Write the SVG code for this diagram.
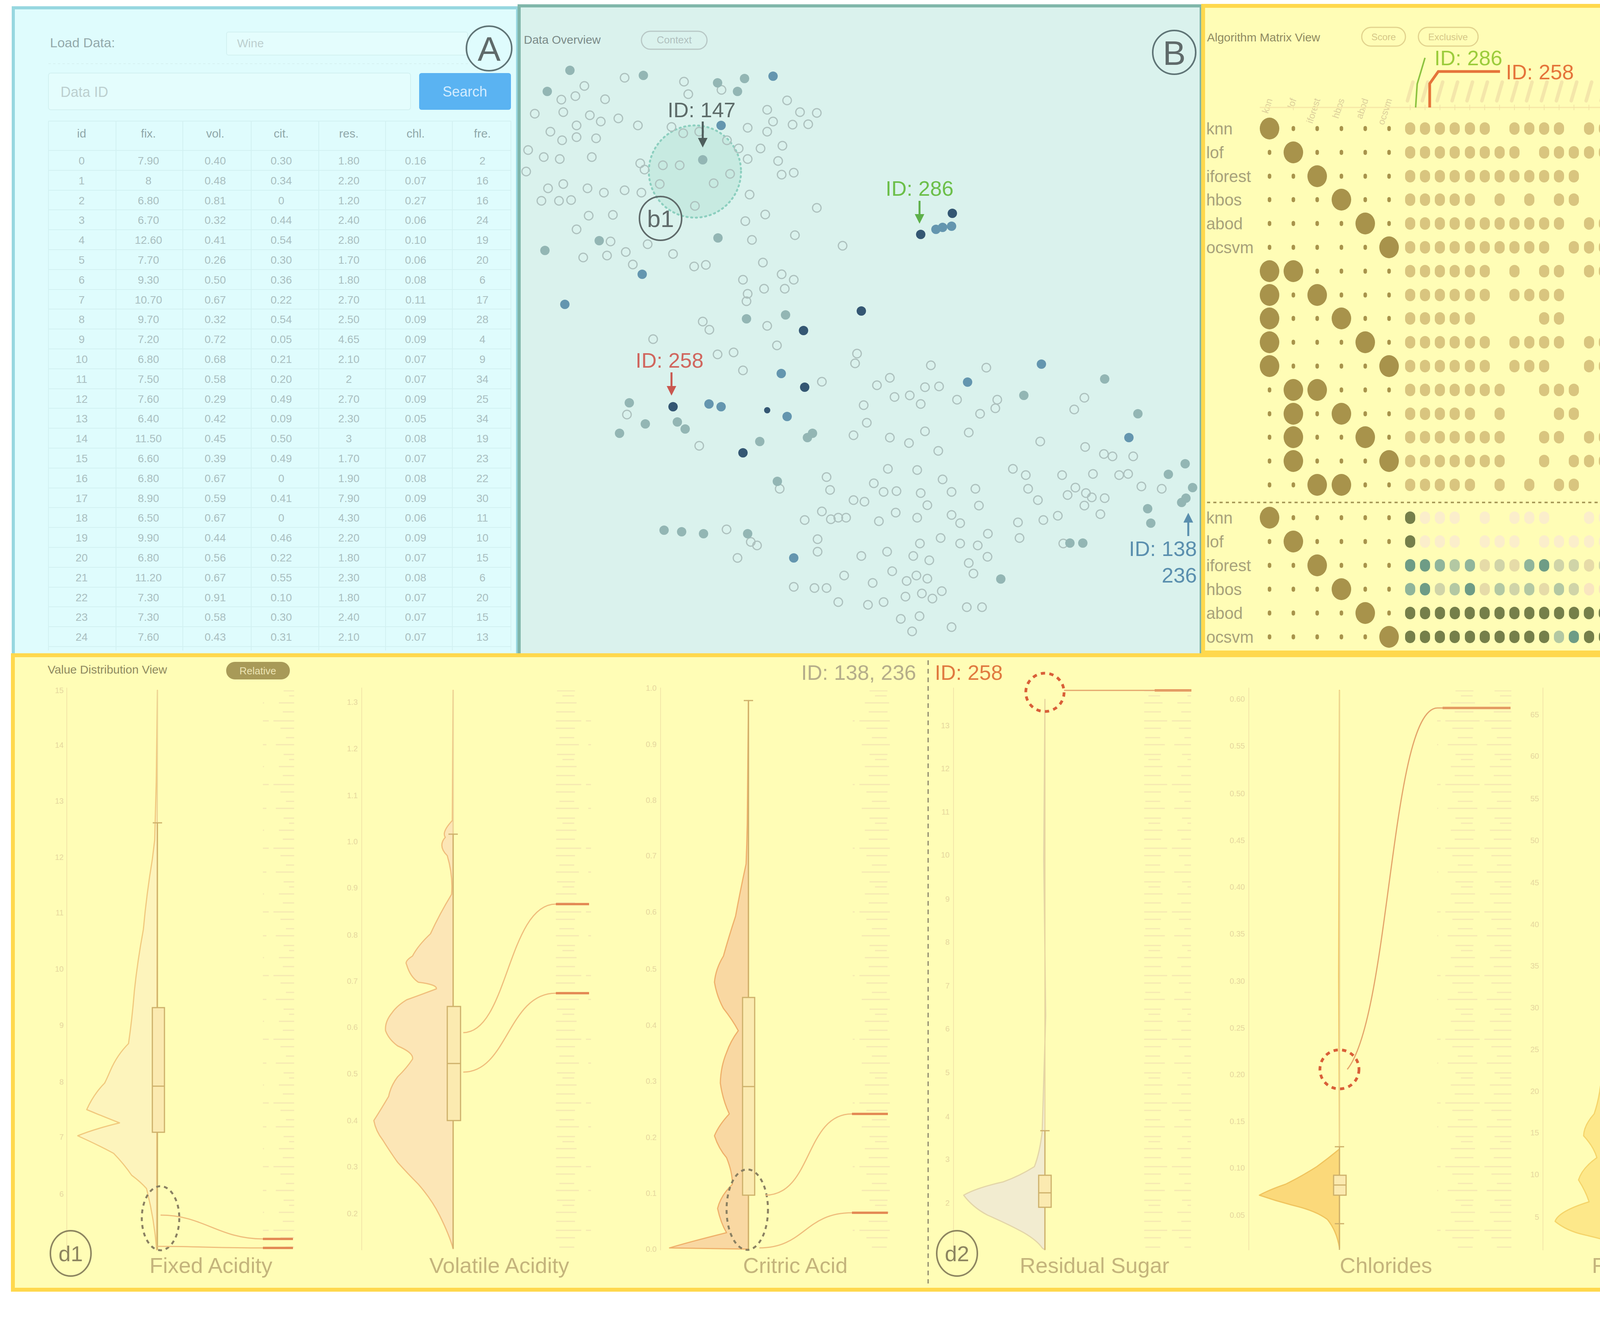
<svg xmlns="http://www.w3.org/2000/svg" width="6259" height="3422" viewBox="0 0 6259 3422">
<style>
text{font-family:"Liberation Sans",Arial,sans-serif}
.annA{fill:none;stroke:#5f7476;stroke-width:4}
.annC{fill:none;stroke:#8d8560;stroke-width:4}
.annt{font-size:88px;fill:#5f6a6a;text-anchor:middle}
.anntC{font-size:88px;fill:#8d8560;text-anchor:middle}
.anns{font-size:56px;fill:#8d8560;text-anchor:middle}
.tbh{font-size:30px;fill:#8fa7a9;text-anchor:middle}
.tb{font-size:28px;fill:#a9bec0;text-anchor:middle}
.h{fill:none;stroke:#adc1be;stroke-width:3}
.f1{fill:#93b6b4}.f2{fill:#6496af}.f3{fill:#345773}
.alg{font-size:42px;fill:#a8a27a}
.dot{fill:none;stroke-width:26;stroke-linecap:round}
.big{fill:#a8934b}
.sm{fill:none;stroke:#a8934b;stroke-width:9;stroke-linecap:round}
.tick{font-size:20px;fill:#e6d79e;text-anchor:end}
.axl{stroke:#f3e5a8;stroke-width:2;fill:none}
.wh{stroke:#cdb06a;stroke-width:3;fill:none}
.thin{stroke:#ead59a;stroke-width:2;fill:none}
.box{fill:#fbeab0;stroke:#cdb06a;stroke-width:3}
.con{fill:none;stroke:#efbd7c;stroke-width:3}
.hl{fill:none;stroke:#e38a55;stroke-width:6}
.lab{font-size:56px;fill:#c4b47c;text-anchor:middle}
.rd{fill:none;stroke:#d95f38;stroke-width:7;stroke-dasharray:11 11}
.gd{fill:none;stroke:#8cc23f;stroke-width:7;stroke-dasharray:11 11}
.kd{fill:none;stroke:#8a8062;stroke-width:5;stroke-dasharray:10 10}
.idt{font-size:54px}
.vio{stroke-width:3;stroke-linejoin:round}
</style>
<defs>
<marker id="ak" viewBox="0 0 10 10" refX="5" refY="5" markerWidth="5" markerHeight="5" orient="auto"><path d="M0 0L10 5L0 10z" fill="#4d5d5b"/></marker>
<marker id="ag" viewBox="0 0 10 10" refX="5" refY="5" markerWidth="5" markerHeight="5" orient="auto"><path d="M0 0L10 5L0 10z" fill="#5db04a"/></marker>
<marker id="ar" viewBox="0 0 10 10" refX="5" refY="5" markerWidth="5" markerHeight="5" orient="auto"><path d="M0 0L10 5L0 10z" fill="#c9574f"/></marker>
<marker id="ab" viewBox="0 0 10 10" refX="5" refY="5" markerWidth="5" markerHeight="5" orient="auto"><path d="M0 0L10 5L0 10z" fill="#5a8fae"/></marker>
<pattern id="rug" width="100" height="163" patternUnits="userSpaceOnUse"><path d="M14 6h62M24 29h48M0 52h88M18 71h54M32 95h38M6 113h76M26 138h46M40 151h30" stroke="#f5e8b2" stroke-width="3"/></pattern>
</defs>
<rect width="6259" height="3422" fill="#ffffff"/>

<g id="panelA">
<rect x="34" y="20" width="1291" height="1660" fill="#dffcfd" stroke="#97d7e0" stroke-width="8"/>
<text x="128" y="121" font-size="34" fill="#93a9ab">Load Data:</text>
<rect x="580" y="82" width="617" height="59" rx="5" fill="#e4fdfd" stroke="#d2f1f1" stroke-width="2"/>
<text x="607" y="121" font-size="30" fill="#bccfcf">Wine</text>
<path d="M124 163H1200" stroke="#d6f1f1" stroke-width="2" stroke-dasharray="6 6"/>
<rect x="124" y="187" width="927" height="94" rx="6" fill="#e4fdfd" stroke="#d2f1f1" stroke-width="2"/>
<text x="155" y="248" font-size="36" fill="#bccfcf">Data ID</text>
<rect x="1073" y="187" width="235" height="94" rx="6" fill="#5ab3f2"/>
<text x="1190" y="247" font-size="36" fill="#d3ecff" text-anchor="middle">Search</text>
<ellipse cx="1252" cy="124" rx="58" ry="57" class="annA"/>
<text x="1252" y="156" class="annt">A</text>
<path d="M124 310H1308M124 385H1308M124 436H1308M124 487H1308M124 537H1308M124 588H1308M124 639H1308M124 690H1308M124 741H1308M124 791H1308M124 842H1308M124 893H1308M124 944H1308M124 995H1308M124 1045H1308M124 1096H1308M124 1147H1308M124 1198H1308M124 1249H1308M124 1299H1308M124 1350H1308M124 1401H1308M124 1452H1308M124 1503H1308M124 1553H1308M124 1604H1308M124 1655H1308M124 310V1665M297 310V1665M468 310V1665M643 310V1665M816 310V1665M987 310V1665M1158 310V1665M1308 310V1665" stroke="#d2f1f2" stroke-width="2" fill="none"/>
<text class="tbh" y="352"><tspan x="209">id</tspan><tspan x="380">fix.</tspan><tspan x="551">vol.</tspan><tspan x="720">cit.</tspan><tspan x="893">res.</tspan><tspan x="1064">chl.</tspan><tspan x="1235">fre.</tspan></text>
<text class="tb" y="421"><tspan x="209">0</tspan><tspan x="380">7.90</tspan><tspan x="551">0.40</tspan><tspan x="720">0.30</tspan><tspan x="893">1.80</tspan><tspan x="1064">0.16</tspan><tspan x="1235">2</tspan></text>
<text class="tb" y="472"><tspan x="209">1</tspan><tspan x="380">8</tspan><tspan x="551">0.48</tspan><tspan x="720">0.34</tspan><tspan x="893">2.20</tspan><tspan x="1064">0.07</tspan><tspan x="1235">16</tspan></text>
<text class="tb" y="523"><tspan x="209">2</tspan><tspan x="380">6.80</tspan><tspan x="551">0.81</tspan><tspan x="720">0</tspan><tspan x="893">1.20</tspan><tspan x="1064">0.27</tspan><tspan x="1235">16</tspan></text>
<text class="tb" y="573"><tspan x="209">3</tspan><tspan x="380">6.70</tspan><tspan x="551">0.32</tspan><tspan x="720">0.44</tspan><tspan x="893">2.40</tspan><tspan x="1064">0.06</tspan><tspan x="1235">24</tspan></text>
<text class="tb" y="624"><tspan x="209">4</tspan><tspan x="380">12.60</tspan><tspan x="551">0.41</tspan><tspan x="720">0.54</tspan><tspan x="893">2.80</tspan><tspan x="1064">0.10</tspan><tspan x="1235">19</tspan></text>
<text class="tb" y="675"><tspan x="209">5</tspan><tspan x="380">7.70</tspan><tspan x="551">0.26</tspan><tspan x="720">0.30</tspan><tspan x="893">1.70</tspan><tspan x="1064">0.06</tspan><tspan x="1235">20</tspan></text>
<text class="tb" y="726"><tspan x="209">6</tspan><tspan x="380">9.30</tspan><tspan x="551">0.50</tspan><tspan x="720">0.36</tspan><tspan x="893">1.80</tspan><tspan x="1064">0.08</tspan><tspan x="1235">6</tspan></text>
<text class="tb" y="777"><tspan x="209">7</tspan><tspan x="380">10.70</tspan><tspan x="551">0.67</tspan><tspan x="720">0.22</tspan><tspan x="893">2.70</tspan><tspan x="1064">0.11</tspan><tspan x="1235">17</tspan></text>
<text class="tb" y="827"><tspan x="209">8</tspan><tspan x="380">9.70</tspan><tspan x="551">0.32</tspan><tspan x="720">0.54</tspan><tspan x="893">2.50</tspan><tspan x="1064">0.09</tspan><tspan x="1235">28</tspan></text>
<text class="tb" y="878"><tspan x="209">9</tspan><tspan x="380">7.20</tspan><tspan x="551">0.72</tspan><tspan x="720">0.05</tspan><tspan x="893">4.65</tspan><tspan x="1064">0.09</tspan><tspan x="1235">4</tspan></text>
<text class="tb" y="929"><tspan x="209">10</tspan><tspan x="380">6.80</tspan><tspan x="551">0.68</tspan><tspan x="720">0.21</tspan><tspan x="893">2.10</tspan><tspan x="1064">0.07</tspan><tspan x="1235">9</tspan></text>
<text class="tb" y="980"><tspan x="209">11</tspan><tspan x="380">7.50</tspan><tspan x="551">0.58</tspan><tspan x="720">0.20</tspan><tspan x="893">2</tspan><tspan x="1064">0.07</tspan><tspan x="1235">34</tspan></text>
<text class="tb" y="1031"><tspan x="209">12</tspan><tspan x="380">7.60</tspan><tspan x="551">0.29</tspan><tspan x="720">0.49</tspan><tspan x="893">2.70</tspan><tspan x="1064">0.09</tspan><tspan x="1235">25</tspan></text>
<text class="tb" y="1081"><tspan x="209">13</tspan><tspan x="380">6.40</tspan><tspan x="551">0.42</tspan><tspan x="720">0.09</tspan><tspan x="893">2.30</tspan><tspan x="1064">0.05</tspan><tspan x="1235">34</tspan></text>
<text class="tb" y="1132"><tspan x="209">14</tspan><tspan x="380">11.50</tspan><tspan x="551">0.45</tspan><tspan x="720">0.50</tspan><tspan x="893">3</tspan><tspan x="1064">0.08</tspan><tspan x="1235">19</tspan></text>
<text class="tb" y="1183"><tspan x="209">15</tspan><tspan x="380">6.60</tspan><tspan x="551">0.39</tspan><tspan x="720">0.49</tspan><tspan x="893">1.70</tspan><tspan x="1064">0.07</tspan><tspan x="1235">23</tspan></text>
<text class="tb" y="1234"><tspan x="209">16</tspan><tspan x="380">6.80</tspan><tspan x="551">0.67</tspan><tspan x="720">0</tspan><tspan x="893">1.90</tspan><tspan x="1064">0.08</tspan><tspan x="1235">22</tspan></text>
<text class="tb" y="1285"><tspan x="209">17</tspan><tspan x="380">8.90</tspan><tspan x="551">0.59</tspan><tspan x="720">0.41</tspan><tspan x="893">7.90</tspan><tspan x="1064">0.09</tspan><tspan x="1235">30</tspan></text>
<text class="tb" y="1335"><tspan x="209">18</tspan><tspan x="380">6.50</tspan><tspan x="551">0.67</tspan><tspan x="720">0</tspan><tspan x="893">4.30</tspan><tspan x="1064">0.06</tspan><tspan x="1235">11</tspan></text>
<text class="tb" y="1386"><tspan x="209">19</tspan><tspan x="380">9.90</tspan><tspan x="551">0.44</tspan><tspan x="720">0.46</tspan><tspan x="893">2.20</tspan><tspan x="1064">0.09</tspan><tspan x="1235">10</tspan></text>
<text class="tb" y="1437"><tspan x="209">20</tspan><tspan x="380">6.80</tspan><tspan x="551">0.56</tspan><tspan x="720">0.22</tspan><tspan x="893">1.80</tspan><tspan x="1064">0.07</tspan><tspan x="1235">15</tspan></text>
<text class="tb" y="1488"><tspan x="209">21</tspan><tspan x="380">11.20</tspan><tspan x="551">0.67</tspan><tspan x="720">0.55</tspan><tspan x="893">2.30</tspan><tspan x="1064">0.08</tspan><tspan x="1235">6</tspan></text>
<text class="tb" y="1539"><tspan x="209">22</tspan><tspan x="380">7.30</tspan><tspan x="551">0.91</tspan><tspan x="720">0.10</tspan><tspan x="893">1.80</tspan><tspan x="1064">0.07</tspan><tspan x="1235">20</tspan></text>
<text class="tb" y="1589"><tspan x="209">23</tspan><tspan x="380">7.30</tspan><tspan x="551">0.58</tspan><tspan x="720">0.30</tspan><tspan x="893">2.40</tspan><tspan x="1064">0.07</tspan><tspan x="1235">15</tspan></text>
<text class="tb" y="1640"><tspan x="209">24</tspan><tspan x="380">7.60</tspan><tspan x="551">0.43</tspan><tspan x="720">0.31</tspan><tspan x="893">2.10</tspan><tspan x="1064">0.07</tspan><tspan x="1235">13</tspan></text>
</g>

<g id="panelB">
<rect x="1329" y="15" width="1746" height="1665" fill="#daf2ed" stroke="#80b6aa" stroke-width="8"/>
<text x="1341" y="112" font-size="30" fill="#7a8a88">Data Overview</text>
<rect x="1642" y="80" width="168" height="46" rx="23" fill="none" stroke="#b8c8c6" stroke-width="3"/>
<text x="1726" y="111" font-size="26" fill="#b0c0be" text-anchor="middle">Context</text>
<ellipse cx="3006" cy="134" rx="55" ry="56" class="annA"/>
<text x="3006" y="166" class="annt">B</text>
<circle cx="1779" cy="439" r="118" fill="#c2e7dd" fill-opacity="0.8" stroke="#8ccfbf" stroke-width="5" stroke-dasharray="3 9" stroke-linecap="round"/>
<g class="h">
<circle cx="1599" cy="199" r="11"/><circle cx="1496" cy="220" r="11"/><circle cx="1473" cy="246" r="11"/><circle cx="1437" cy="255" r="11"/><circle cx="1549" cy="254" r="11"/><circle cx="1751" cy="209" r="11"/><circle cx="1762" cy="241" r="11"/><circle cx="1847" cy="230" r="11"/><circle cx="2015" cy="257" r="11"/><circle cx="1964" cy="281" r="11"/><circle cx="2048" cy="287" r="11"/><circle cx="2091" cy="289" r="11"/><circle cx="1369" cy="291" r="11"/><circle cx="1442" cy="287" r="11"/><circle cx="1510" cy="295" r="11"/><circle cx="1538" cy="311" r="11"/><circle cx="1583" cy="303" r="11"/><circle cx="1633" cy="321" r="11"/><circle cx="1476" cy="321" r="11"/><circle cx="1409" cy="337" r="11"/><circle cx="1439" cy="359" r="11"/><circle cx="1476" cy="351" r="11"/><circle cx="1526" cy="354" r="11"/><circle cx="1914" cy="327" r="11"/><circle cx="1979" cy="311" r="11"/><circle cx="2029" cy="319" r="11"/><circle cx="2069" cy="318" r="11"/><circle cx="1964" cy="337" r="11"/><circle cx="2003" cy="373" r="11"/><circle cx="1947" cy="380" r="11"/><circle cx="1914" cy="407" r="11"/><circle cx="1992" cy="412" r="11"/><circle cx="2001" cy="447" r="11"/><circle cx="2032" cy="442" r="11"/><circle cx="1891" cy="380" r="11"/><circle cx="1861" cy="359" r="11"/><circle cx="1719" cy="325" r="11"/><circle cx="1749" cy="341" r="11"/><circle cx="1790" cy="337" r="11"/><circle cx="1352" cy="384" r="11"/><circle cx="1392" cy="402" r="11"/><circle cx="1433" cy="407" r="11"/><circle cx="1515" cy="402" r="11"/><circle cx="1347" cy="439" r="11"/><circle cx="1639" cy="418" r="11"/><circle cx="1650" cy="434" r="11"/><circle cx="1697" cy="423" r="11"/><circle cx="1740" cy="423" r="11"/><circle cx="1869" cy="445" r="11"/><circle cx="1827" cy="469" r="11"/><circle cx="1403" cy="482" r="11"/><circle cx="1442" cy="471" r="11"/><circle cx="1504" cy="482" r="11"/><circle cx="1546" cy="493" r="11"/><circle cx="1599" cy="487" r="11"/><circle cx="1642" cy="493" r="11"/><circle cx="1386" cy="514" r="11"/><circle cx="1431" cy="514" r="11"/><circle cx="1462" cy="512" r="11"/><circle cx="1689" cy="471" r="11"/><circle cx="1779" cy="527" r="11"/><circle cx="1919" cy="498" r="11"/><circle cx="1908" cy="566" r="11"/><circle cx="1959" cy="549" r="11"/><circle cx="2091" cy="532" r="11"/><circle cx="1507" cy="552" r="11"/><circle cx="1569" cy="550" r="11"/><circle cx="1476" cy="587" r="11"/><circle cx="1563" cy="618" r="11"/><circle cx="1658" cy="625" r="11"/><circle cx="1723" cy="650" r="11"/><circle cx="1554" cy="654" r="11"/><circle cx="1493" cy="659" r="11"/><circle cx="1602" cy="645" r="11"/><circle cx="1620" cy="677" r="11"/><circle cx="1777" cy="682" r="11"/><circle cx="1807" cy="678" r="11"/><circle cx="1925" cy="614" r="11"/><circle cx="2035" cy="602" r="11"/><circle cx="2157" cy="629" r="11"/><circle cx="1953" cy="672" r="11"/><circle cx="2001" cy="702" r="11"/><circle cx="2032" cy="716" r="11"/><circle cx="1902" cy="716" r="11"/><circle cx="2009" cy="739" r="11"/><circle cx="1956" cy="739" r="11"/><circle cx="1914" cy="752" r="11"/><circle cx="1911" cy="771" r="11"/><circle cx="1964" cy="834" r="11"/><circle cx="1799" cy="823" r="11"/><circle cx="1816" cy="844" r="11"/><circle cx="1989" cy="884" r="11"/><circle cx="1672" cy="868" r="11"/><circle cx="2194" cy="905" r="11"/><circle cx="2189" cy="930" r="11"/><circle cx="1837" cy="907" r="11"/><circle cx="1878" cy="902" r="11"/><circle cx="1902" cy="948" r="11"/><circle cx="2104" cy="977" r="11"/><circle cx="1605" cy="1061" r="11"/><circle cx="1790" cy="1141" r="11"/><circle cx="2383" cy="935" r="11"/><circle cx="2525" cy="941" r="11"/><circle cx="2211" cy="1037" r="11"/><circle cx="2245" cy="986" r="11"/><circle cx="2278" cy="967" r="11"/><circle cx="2290" cy="1016" r="11"/><circle cx="2329" cy="1012" r="11"/><circle cx="2357" cy="1034" r="11"/><circle cx="2368" cy="991" r="11"/><circle cx="2404" cy="989" r="11"/><circle cx="2450" cy="1023" r="11"/><circle cx="2509" cy="1059" r="11"/><circle cx="2548" cy="1045" r="11"/><circle cx="2553" cy="1023" r="11"/><circle cx="2480" cy="1107" r="11"/><circle cx="2663" cy="1130" r="11"/><circle cx="2750" cy="1048" r="11"/><circle cx="2776" cy="1018" r="11"/><circle cx="2219" cy="1082" r="11"/><circle cx="2185" cy="1114" r="11"/><circle cx="2278" cy="1120" r="11"/><circle cx="2327" cy="1134" r="11"/><circle cx="2368" cy="1104" r="11"/><circle cx="2402" cy="1154" r="11"/><circle cx="2778" cy="1144" r="11"/><circle cx="2826" cy="1162" r="11"/><circle cx="2848" cy="1168" r="11"/><circle cx="2901" cy="1168" r="11"/><circle cx="2593" cy="1200" r="11"/><circle cx="2626" cy="1216" r="11"/><circle cx="2719" cy="1216" r="11"/><circle cx="2798" cy="1213" r="11"/><circle cx="2865" cy="1216" r="11"/><circle cx="2888" cy="1213" r="11"/><circle cx="2922" cy="1245" r="11"/><circle cx="2974" cy="1251" r="11"/><circle cx="2632" cy="1251" r="11"/><circle cx="2657" cy="1280" r="11"/><circle cx="2733" cy="1267" r="11"/><circle cx="2753" cy="1248" r="11"/><circle cx="2780" cy="1262" r="11"/><circle cx="2795" cy="1273" r="11"/><circle cx="2828" cy="1275" r="11"/><circle cx="2776" cy="1294" r="11"/><circle cx="2817" cy="1316" r="11"/><circle cx="2708" cy="1320" r="11"/><circle cx="2671" cy="1331" r="11"/><circle cx="2606" cy="1337" r="11"/><circle cx="2610" cy="1377" r="11"/><circle cx="2722" cy="1391" r="11"/><circle cx="2273" cy="1200" r="11"/><circle cx="2348" cy="1203" r="11"/><circle cx="2413" cy="1227" r="11"/><circle cx="2237" cy="1237" r="11"/><circle cx="2262" cy="1259" r="11"/><circle cx="2295" cy="1257" r="11"/><circle cx="2357" cy="1262" r="11"/><circle cx="2436" cy="1259" r="11"/><circle cx="2497" cy="1251" r="11"/><circle cx="2506" cy="1294" r="11"/><circle cx="2374" cy="1293" r="11"/><circle cx="2436" cy="1318" r="11"/><circle cx="2458" cy="1339" r="11"/><circle cx="2348" cy="1325" r="11"/><circle cx="2293" cy="1312" r="11"/><circle cx="2250" cy="1334" r="11"/><circle cx="2213" cy="1284" r="11"/><circle cx="2116" cy="1221" r="11"/><circle cx="2125" cy="1254" r="11"/><circle cx="2185" cy="1280" r="11"/><circle cx="2104" cy="1309" r="11"/><circle cx="2127" cy="1329" r="11"/><circle cx="2146" cy="1325" r="11"/><circle cx="2166" cy="1325" r="11"/><circle cx="2060" cy="1331" r="11"/><circle cx="2093" cy="1380" r="11"/><circle cx="1996" cy="1251" r="11"/><circle cx="2355" cy="1391" r="11"/><circle cx="2408" cy="1377" r="11"/><circle cx="2458" cy="1391" r="11"/><circle cx="2503" cy="1396" r="11"/><circle cx="2529" cy="1366" r="11"/><circle cx="2528" cy="1425" r="11"/><circle cx="2480" cy="1441" r="11"/><circle cx="2492" cy="1468" r="11"/><circle cx="2093" cy="1412" r="11"/><circle cx="2205" cy="1423" r="11"/><circle cx="2271" cy="1412" r="11"/><circle cx="2338" cy="1423" r="11"/><circle cx="2379" cy="1434" r="11"/><circle cx="2161" cy="1473" r="11"/><circle cx="2234" cy="1492" r="11"/><circle cx="2284" cy="1462" r="11"/><circle cx="2321" cy="1487" r="11"/><circle cx="2346" cy="1473" r="11"/><circle cx="2374" cy="1481" r="11"/><circle cx="2032" cy="1502" r="11"/><circle cx="2085" cy="1505" r="11"/><circle cx="2116" cy="1505" r="11"/><circle cx="2146" cy="1541" r="11"/><circle cx="2222" cy="1548" r="11"/><circle cx="2262" cy="1541" r="11"/><circle cx="2318" cy="1527" r="11"/><circle cx="2360" cy="1519" r="11"/><circle cx="2387" cy="1532" r="11"/><circle cx="2411" cy="1513" r="11"/><circle cx="2475" cy="1554" r="11"/><circle cx="2514" cy="1554" r="11"/><circle cx="2306" cy="1584" r="11"/><circle cx="2354" cy="1577" r="11"/><circle cx="2335" cy="1616" r="11"/><circle cx="2436" cy="1605" r="11"/><circle cx="1860" cy="1355" r="11"/><circle cx="1922" cy="1387" r="11"/><circle cx="1938" cy="1396" r="11"/><circle cx="1888" cy="1428" r="11"/>
</g>
<g class="f1">
<circle cx="1459" cy="180" r="12"/><circle cx="1647" cy="193" r="12"/><circle cx="1906" cy="201" r="12"/><circle cx="1837" cy="212" r="12"/><circle cx="1888" cy="234" r="12"/><circle cx="1401" cy="234" r="12"/><circle cx="1799" cy="409" r="12"/><circle cx="1534" cy="616" r="12"/><circle cx="1838" cy="609" r="12"/><circle cx="1395" cy="641" r="12"/><circle cx="1911" cy="816" r="12"/><circle cx="2011" cy="806" r="12"/><circle cx="1611" cy="1031" r="12"/><circle cx="1586" cy="1109" r="12"/><circle cx="1652" cy="1085" r="12"/><circle cx="1734" cy="1080" r="12"/><circle cx="1754" cy="1098" r="12"/><circle cx="1945" cy="1130" r="12"/><circle cx="2067" cy="1120" r="12"/><circle cx="2080" cy="1109" r="12"/><circle cx="2828" cy="970" r="12"/><circle cx="2913" cy="1059" r="12"/><circle cx="2621" cy="1012" r="12"/><circle cx="2991" cy="1214" r="12"/><circle cx="3034" cy="1187" r="12"/><circle cx="3053" cy="1248" r="12"/><circle cx="3036" cy="1275" r="12"/><circle cx="3025" cy="1286" r="12"/><circle cx="2938" cy="1302" r="12"/><circle cx="2946" cy="1339" r="12"/><circle cx="2739" cy="1390" r="12"/><circle cx="2772" cy="1390" r="12"/><circle cx="2562" cy="1482" r="12"/><circle cx="1990" cy="1232" r="12"/><circle cx="1700" cy="1357" r="12"/><circle cx="1745" cy="1361" r="12"/><circle cx="1801" cy="1366" r="12"/><circle cx="1914" cy="1366" r="12"/>
</g>
<g class="f2">
<circle cx="1979" cy="195" r="12"/><circle cx="1846" cy="321" r="12"/><circle cx="1644" cy="702" r="12"/><circle cx="1446" cy="779" r="12"/><circle cx="2000" cy="956" r="12"/><circle cx="1815" cy="1034" r="12"/><circle cx="1846" cy="1041" r="12"/><circle cx="2015" cy="1066" r="12"/><circle cx="2396" cy="587" r="12"/><circle cx="2413" cy="582" r="12"/><circle cx="2436" cy="579" r="12"/><circle cx="2666" cy="932" r="12"/><circle cx="2890" cy="1120" r="12"/><circle cx="2477" cy="978" r="12"/><circle cx="2032" cy="1428" r="12"/>
</g>
<g class="f3">
<circle cx="2205" cy="796" r="12"/><circle cx="2057" cy="846" r="12"/><circle cx="2060" cy="991" r="12"/><circle cx="1723" cy="1041" r="12"/><circle cx="1964" cy="1050" r="8"/><circle cx="1902" cy="1159" r="12"/><circle cx="2357" cy="600" r="12"/><circle cx="2438" cy="546" r="12"/>
</g>
<ellipse cx="1691" cy="559" rx="54" ry="56" fill="none" stroke="#5f6a6a" stroke-width="4"/>
<text x="1691" y="581" font-size="62" fill="#5f6a6a" text-anchor="middle">b1</text>
<text x="1709" y="300" class="idt" fill="#5d6b69">ID: 147</text>
<text x="2267" y="501" class="idt" fill="#6cbf4a">ID: 286</text>
<text x="1627" y="941" class="idt" fill="#d0665e">ID: 258</text>
<text x="3064" y="1423" class="idt" fill="#5a8fae" text-anchor="end">ID: 138</text>
<text x="3064" y="1491" class="idt" fill="#5a8fae" text-anchor="end">236</text>
</g>

<g id="panelC">
<rect x="3080" y="15" width="3165" height="1655" fill="#fffdb6" stroke="#ffd84d" stroke-width="10"/>
<text x="3090" y="106" font-size="30" fill="#8f8a60">Algorithm Matrix View</text>
<rect x="3486" y="70" width="112" height="48" rx="24" fill="none" stroke="#e2d38e" stroke-width="3"/>
<text x="3542" y="103" font-size="24" fill="#d5c687" text-anchor="middle">Score</text>
<rect x="3631" y="70" width="153" height="48" rx="24" fill="none" stroke="#e2d38e" stroke-width="3"/>
<text x="3707" y="103" font-size="24" fill="#d5c687" text-anchor="middle">Exclusive</text>
<ellipse cx="6124" cy="132" rx="56" ry="58" class="annC"/>
<text x="6124" y="164" class="anntC">C</text>
<g font-size="24" fill="#dccf9a" text-anchor="end">
<text transform="translate(3258,255) rotate(-72)">knn</text>
<text transform="translate(3319,255) rotate(-72)">lof</text>
<text transform="translate(3380,255) rotate(-72)">iforest</text>
<text transform="translate(3442,255) rotate(-72)">hbos</text>
<text transform="translate(3503,255) rotate(-72)">abod</text>
<text transform="translate(3564,255) rotate(-72)">ocsvm</text>
</g>
<path d="M3603 258l14-48m24.13 48l14-48m24.13 48l14-48m24.13 48l14-48m24.13 48l14-48m24.13 48l14-48m24.13 48l14-48m24.13 48l14-48m24.13 48l14-48m24.13 48l14-48m24.13 48l14-48m24.13 48l14-48m24.13 48l14-48m24.13 48l14-48m24.13 48l14-48m24.13 48l14-48m24.13 48l14-48m24.13 48l14-48m24.13 48l14-48m24.13 48l14-48m24.13 48l14-48m24.13 48l14-48m24.13 48l14-48m24.13 48l14-48m24.13 48l14-48m24.13 48l14-48m24.13 48l14-48m24.13 48l14-48m24.13 48l14-48m24.13 48l14-48m24.13 48l14-48m24.13 48l14-48m24.13 48l14-48m24.13 48l14-48m24.13 48l14-48m24.13 48l14-48m24.13 48l14-48m24.13 48l14-48m24.13 48l14-48m24.13 48l14-48m24.13 48l14-48m24.13 48l14-48m24.13 48l14-48m24.13 48l14-48m24.13 48l14-48m24.13 48l14-48m24.13 48l14-48m24.13 48l14-48m24.13 48l14-48m24.13 48l14-48m24.13 48l14-48m24.13 48l14-48m24.13 48l14-48m24.13 48l14-48m24.13 48l14-48m24.13 48l14-48m24.13 48l14-48m24.13 48l14-48m24.13 48l14-48m24.13 48l14-48m24.13 48l14-48m24.13 48l14-48m24.13 48l14-48m24.13 48l14-48m24.13 48l14-48m24.13 48l14-48" stroke="#f4e6aa" stroke-width="9" stroke-linecap="round" fill="none"/>
<path d="M3225 275H6195" stroke="#f6e6a6" stroke-width="3"/>
<path d="M3610 268v14m38.13 -14v14m38.13 -14v14m38.13 -14v14m38.13 -14v14m38.13 -14v14m38.13 -14v14m38.13 -14v14m38.13 -14v14m38.13 -14v14m38.13 -14v14m38.13 -14v14m38.13 -14v14m38.13 -14v14m38.13 -14v14m38.13 -14v14m38.13 -14v14m38.13 -14v14m38.13 -14v14m38.13 -14v14m38.13 -14v14m38.13 -14v14m38.13 -14v14m38.13 -14v14m38.13 -14v14m38.13 -14v14m38.13 -14v14m38.13 -14v14m38.13 -14v14m38.13 -14v14m38.13 -14v14m38.13 -14v14m38.13 -14v14m38.13 -14v14m38.13 -14v14m38.13 -14v14m38.13 -14v14m38.13 -14v14m38.13 -14v14m38.13 -14v14m38.13 -14v14m38.13 -14v14m38.13 -14v14m38.13 -14v14m38.13 -14v14m38.13 -14v14m38.13 -14v14m38.13 -14v14m38.13 -14v14m38.13 -14v14m38.13 -14v14m38.13 -14v14m38.13 -14v14m38.13 -14v14m38.13 -14v14m38.13 -14v14m38.13 -14v14m38.13 -14v14m38.13 -14v14m38.13 -14v14m38.13 -14v14m38.13 -14v14m38.13 -14v14m38.13 -14v14M3250 268v14M3311 268v14M3372 268v14M3434 268v14M3495 268v14M3556 268v14" stroke="#f3e4a6" stroke-width="2" fill="none"/>
<g class="alg">
<text x="3088" y="344">knn</text><text x="3088" y="405">lof</text><text x="3088" y="466">iforest</text><text x="3088" y="526">hbos</text><text x="3088" y="587">abod</text><text x="3088" y="648">ocsvm</text>
<text x="3088" y="1340">knn</text><text x="3088" y="1401">lof</text><text x="3088" y="1462">iforest</text><text x="3088" y="1523">hbos</text><text x="3088" y="1584">abod</text><text x="3088" y="1645">ocsvm</text>
</g>
<g class="big">
<ellipse cx="3250" cy="329" rx="25" ry="28"/><ellipse cx="3311" cy="390" rx="25" ry="28"/><ellipse cx="3372" cy="451" rx="25" ry="28"/><ellipse cx="3434" cy="511" rx="25" ry="28"/><ellipse cx="3495" cy="572" rx="25" ry="28"/><ellipse cx="3556" cy="633" rx="25" ry="28"/>
<ellipse cx="3250" cy="694" rx="25" ry="28"/><ellipse cx="3311" cy="694" rx="25" ry="28"/>
<ellipse cx="3250" cy="755" rx="25" ry="28"/><ellipse cx="3372" cy="755" rx="25" ry="28"/>
<ellipse cx="3250" cy="815" rx="25" ry="28"/><ellipse cx="3434" cy="815" rx="25" ry="28"/>
<ellipse cx="3250" cy="876" rx="25" ry="28"/><ellipse cx="3495" cy="876" rx="25" ry="28"/>
<ellipse cx="3250" cy="937" rx="25" ry="28"/><ellipse cx="3556" cy="937" rx="25" ry="28"/>
<ellipse cx="3311" cy="998" rx="25" ry="28"/><ellipse cx="3372" cy="998" rx="25" ry="28"/>
<ellipse cx="3311" cy="1059" rx="25" ry="28"/><ellipse cx="3434" cy="1059" rx="25" ry="28"/>
<ellipse cx="3311" cy="1119" rx="25" ry="28"/><ellipse cx="3495" cy="1119" rx="25" ry="28"/>
<ellipse cx="3311" cy="1180" rx="25" ry="28"/><ellipse cx="3556" cy="1180" rx="25" ry="28"/>
<ellipse cx="3372" cy="1241" rx="25" ry="28"/><ellipse cx="3434" cy="1241" rx="25" ry="28"/>
<ellipse cx="3250" cy="1325" rx="25" ry="28"/><ellipse cx="3311" cy="1386" rx="25" ry="28"/><ellipse cx="3372" cy="1447" rx="25" ry="28"/><ellipse cx="3434" cy="1508" rx="25" ry="28"/><ellipse cx="3495" cy="1569" rx="25" ry="28"/><ellipse cx="3556" cy="1630" rx="25" ry="28"/>
</g>
<path class="sm" d="M3311 327v4M3372 327v4M3434 327v4M3495 327v4M3556 327v4M3250 388v4M3372 388v4M3434 388v4M3495 388v4M3556 388v4M3250 449v4M3311 449v4M3434 449v4M3495 449v4M3556 449v4M3250 509v4M3311 509v4M3372 509v4M3495 509v4M3556 509v4M3250 570v4M3311 570v4M3372 570v4M3434 570v4M3556 570v4M3250 631v4M3311 631v4M3372 631v4M3434 631v4M3495 631v4M3372 692v4M3434 692v4M3495 692v4M3556 692v4M3311 753v4M3434 753v4M3495 753v4M3556 753v4M3311 813v4M3372 813v4M3495 813v4M3556 813v4M3311 874v4M3372 874v4M3434 874v4M3556 874v4M3311 935v4M3372 935v4M3434 935v4M3495 935v4M3250 996v4M3434 996v4M3495 996v4M3556 996v4M3250 1057v4M3372 1057v4M3495 1057v4M3556 1057v4M3250 1117v4M3372 1117v4M3434 1117v4M3556 1117v4M3250 1178v4M3372 1178v4M3434 1178v4M3495 1178v4M3250 1239v4M3311 1239v4M3495 1239v4M3556 1239v4M3311 1323v4M3372 1323v4M3434 1323v4M3495 1323v4M3556 1323v4M3250 1384v4M3372 1384v4M3434 1384v4M3495 1384v4M3556 1384v4M3250 1445v4M3311 1445v4M3434 1445v4M3495 1445v4M3556 1445v4M3250 1506v4M3311 1506v4M3372 1506v4M3495 1506v4M3556 1506v4M3250 1567v4M3311 1567v4M3372 1567v4M3434 1567v4M3556 1567v4M3250 1628v4M3311 1628v4M3372 1628v4M3434 1628v4M3495 1628v4"/>
<path class="dot" stroke="#d9c57f" d="M3610 326v6M3648 326v6M3686 326v6M3724 326v6M3763 326v6M3801 326v6M3877 326v6M3915 326v6M3953 326v6M3991 326v6M4068 326v6M4106 326v6M4182 326v6M4220 326v6M4258 326v6M4296 326v6M4334 326v6M4373 326v6M4449 326v6M4525 326v6M4563 326v6M4601 326v6M4640 326v6M4678 326v6M4716 326v6M4754 326v6M4830 326v6M5288 326v6M5478 326v6M5898 326v6
M3610 387v6M3648 387v6M3686 387v6M3724 387v6M3763 387v6M3801 387v6M3839 387v6M3877 387v6M3953 387v6M3991 387v6M4029 387v6M4068 387v6M4106 387v6M4144 387v6M4182 387v6M4258 387v6M4373 387v6M4411 387v6M4449 387v6M4487 387v6M4563 387v6M4830 387v6M5783 387v6M5822 387v6M5860 387v6M6050 387v6M6127 387v6M6165 387v6
M3610 448v6M3648 448v6M3686 448v6M3724 448v6M3763 448v6M3801 448v6M3839 448v6M3877 448v6M3915 448v6M3953 448v6M3991 448v6M4029 448v6M4144 448v6M4220 448v6M4411 448v6M4792 448v6M4906 448v6M4945 448v6M4983 448v6M5021 448v6M5059 448v6M5097 448v6M5135 448v6M5173 448v6M5211 448v6M5250 448v6M5326 448v6M5517 448v6M5593 448v6M5974 448v6
M3610 508v6M3648 508v6M3686 508v6M3724 508v6M3763 508v6M3839 508v6M3915 508v6M3991 508v6M4029 508v6M4144 508v6M4220 508v6M4411 508v6M4640 508v6M4792 508v6M4906 508v6M4945 508v6M4983 508v6M5021 508v6M5059 508v6M5097 508v6M5135 508v6M5173 508v6M5211 508v6M5250 508v6M5326 508v6M5364 508v6M5402 508v6M5707 508v6M5745 508v6M5936 508v6
M3610 569v6M3648 569v6M3686 569v6M3724 569v6M3763 569v6M3801 569v6M3839 569v6M3877 569v6M3915 569v6M3953 569v6M3991 569v6M4068 569v6M4106 569v6M4144 569v6M4182 569v6M4258 569v6M4296 569v6M4334 569v6M4411 569v6M4449 569v6M4487 569v6M4525 569v6M4601 569v6M4678 569v6M4716 569v6M4754 569v6M4868 569v6M5440 569v6M5631 569v6M6012 569v6
M3610 630v6M3648 630v6M3686 630v6M3724 630v6M3763 630v6M3801 630v6M3839 630v6M3877 630v6M3915 630v6M3953 630v6M4029 630v6M4068 630v6M4106 630v6M4182 630v6M4220 630v6M4296 630v6M4334 630v6M4373 630v6M4449 630v6M4487 630v6M4563 630v6M4601 630v6M4640 630v6M4678 630v6M4716 630v6M4754 630v6M4868 630v6M5288 630v6M5555 630v6M5669 630v6M6088 630v6
M3610 691v6M3648 691v6M3686 691v6M3724 691v6M3763 691v6M3801 691v6M3877 691v6M3953 691v6M3991 691v6M4068 691v6M4106 691v6M4182 691v6M4258 691v6M4373 691v6M4411 691v6M4563 691v6M4830 691v6
M3610 752v6M3648 752v6M3686 752v6M3724 752v6M3763 752v6M3801 752v6M3877 752v6M3915 752v6M3953 752v6M3991 752v6M4220 752v6
M3610 812v6M3648 812v6M3686 812v6M3724 812v6M3763 812v6M3953 812v6M3991 812v6M4220 812v6M4640 812v6
M3610 873v6M3648 873v6M3686 873v6M3724 873v6M3763 873v6M3801 873v6M3877 873v6M3915 873v6M3953 873v6M3991 873v6M4068 873v6M4106 873v6M4182 873v6M4258 873v6M4296 873v6M4334 873v6M4449 873v6M4525 873v6M4563 873v6M4601 873v6M4678 873v6M4716 873v6M4754 873v6
M3610 934v6M3648 934v6M3686 934v6M3724 934v6M3763 934v6M3801 934v6M3877 934v6M3915 934v6M3953 934v6M4068 934v6M4106 934v6M4182 934v6M4220 934v6M4296 934v6M4334 934v6M4373 934v6M4525 934v6M4601 934v6M4640 934v6M4678 934v6M4716 934v6M4754 934v6M5288 934v6
M3610 995v6M3648 995v6M3686 995v6M3724 995v6M3763 995v6M3801 995v6M3839 995v6M3953 995v6M3991 995v6M4029 995v6M4144 995v6M4411 995v6
M3610 1056v6M3648 1056v6M3686 1056v6M3724 1056v6M3763 1056v6M3839 1056v6M3991 1056v6M4029 1056v6M4144 1056v6M4411 1056v6
M3610 1116v6M3648 1116v6M3686 1116v6M3724 1116v6M3763 1116v6M3801 1116v6M3839 1116v6M3953 1116v6M3991 1116v6M4068 1116v6M4106 1116v6M4144 1116v6M4182 1116v6M4258 1116v6M4449 1116v6M4487 1116v6M4563 1116v6
M3610 1177v6M3648 1177v6M3686 1177v6M3724 1177v6M3763 1177v6M3801 1177v6M3839 1177v6M3953 1177v6M4029 1177v6M4068 1177v6M4106 1177v6M4182 1177v6M4373 1177v6M4487 1177v6
M3610 1238v6M3648 1238v6M3686 1238v6M3724 1238v6M3763 1238v6M3839 1238v6M3915 1238v6M3991 1238v6M4029 1238v6M4144 1238v6M4220 1238v6M4411 1238v6M4792 1238v6M4906 1238v6M4945 1238v6M4983 1238v6M5021 1238v6M5059 1238v6M5097 1238v6M5135 1238v6M5173 1238v6M5211 1238v6M5326 1238v6"/>
<path d="M3090 1286H6165" stroke="#a89a5a" stroke-width="4" stroke-dasharray="8 8"/>
<path class="dot" stroke="#fbeecb" d="M3648 1322v6M3686 1322v6M3724 1322v6M3801 1322v6M3877 1322v6M3915 1322v6M3953 1322v6M4068 1322v6M4106 1322v6M4144 1322v6M4182 1322v6M4258 1322v6M4296 1322v6M4334 1322v6M4373 1322v6M4449 1322v6M4487 1322v6M4563 1322v6M4601 1322v6M4640 1322v6M4678 1322v6M4716 1322v6M4792 1322v6M4868 1322v6M4945 1322v6M5021 1322v6M5059 1322v6M5135 1322v6M5211 1322v6M5326 1322v6M5402 1322v6M5517 1322v6M5593 1322v6M5707 1322v6M5783 1322v6M5898 1322v6M5974 1322v6M6050 1322v6M6127 1322v6
M3648 1383v6M3686 1383v6M3724 1383v6M3801 1383v6M3839 1383v6M3877 1383v6M3953 1383v6M3991 1383v6M4029 1383v6M4068 1383v6M4106 1383v6M4144 1383v6M4182 1383v6M4220 1383v6M4258 1383v6M4334 1383v6M4411 1383v6M4449 1383v6M4487 1383v6M4525 1383v6M4563 1383v6M4601 1383v6M4640 1383v6M4678 1383v6M4754 1383v6M4830 1383v6M4906 1383v6M4983 1383v6M5059 1383v6M5135 1383v6M5211 1383v6M5326 1383v6M5440 1383v6M5555 1383v6M5631 1383v6M5783 1383v6M5822 1383v6M5860 1383v6M5974 1383v6M6050 1383v6M6127 1383v6"/>
<path class="dot" stroke="#f9e6c0" d="M4182 1444v6M4258 1444v6M4373 1444v6M4449 1444v6M4525 1444v6M4563 1444v6M4640 1444v6M4716 1444v6M4868 1444v6M5440 1444v6M5478 1444v6M5555 1444v6M5631 1444v6M5669 1444v6M5783 1444v6M5822 1444v6M5860 1444v6M6012 1444v6M6050 1444v6M6127 1444v6M6165 1444v6M4068 1505v6M4106 1505v6M4182 1505v6M4258 1505v6M4373 1505v6M4525 1505v6M4601 1505v6M4716 1505v6M4754 1505v6M4868 1505v6M5288 1505v6M5440 1505v6M5555 1505v6M5822 1505v6M6012 1505v6M6050 1505v6M6165 1505v6"/>
<path class="dot" stroke="#e6dba8" d="M3801 1444v6M3877 1444v6M4068 1444v6M4487 1444v6M4601 1444v6M4830 1444v6M5402 1444v6M5707 1444v6M5745 1444v6M5898 1444v6M3801 1505v6M3953 1505v6M4487 1505v6M4640 1505v6M5364 1505v6M5783 1505v6M5898 1505v6M6127 1505v6"/>
<path class="dot" stroke="#d0d4a8" d="M3839 1444v6M3991 1444v6M4029 1444v6M4106 1444v6M4144 1444v6M4296 1444v6M4754 1444v6M4945 1444v6M5097 1444v6M5135 1444v6M5173 1444v6M5364 1444v6M5936 1444v6M5974 1444v6M3686 1505v6M3877 1505v6M4029 1505v6M4296 1505v6M4945 1505v6M5135 1505v6M5173 1505v6M5326 1505v6M5402 1505v6M5707 1505v6"/>
<path class="dot" stroke="#b3c8a3" d="M3724 1444v6M4792 1444v6M4906 1444v6M5021 1444v6M5326 1444v6M5517 1444v6M5593 1444v6M3724 1505v6M3839 1505v6M3915 1505v6M3991 1505v6M4144 1505v6M4220 1505v6M4792 1505v6M4830 1505v6M5097 1505v6M5250 1505v6M5517 1505v6M5593 1505v6M5745 1505v6M5936 1505v6M3991 1627v6M4296 1627v6M4449 1627v6M4487 1627v6M4601 1627v6M4830 1627v6M4945 1627v6M4983 1627v6M5021 1627v6M5059 1627v6M5097 1627v6M5135 1627v6M5211 1627v6M5326 1627v6M5364 1627v6M5478 1627v6M5517 1627v6M5555 1627v6M5631 1627v6M5669 1627v6M5783 1627v6M5822 1627v6M5860 1627v6M5974 1627v6M6012 1627v6M6050 1627v6M6088 1627v6M6165 1627v6"/>
<path class="dot" stroke="#90b59b" d="M3686 1444v6M3763 1444v6M3915 1444v6M4220 1444v6M4411 1444v6M4983 1444v6M5059 1444v6M5250 1444v6M3610 1505v6M4411 1505v6M4906 1505v6M5021 1505v6M5059 1505v6M5974 1505v6M4906 1627v6M5440 1627v6M5936 1627v6"/>
<path class="dot" stroke="#6e9c86" d="M3610 1444v6M3648 1444v6M3953 1444v6M3648 1505v6M3763 1505v6M4983 1505v6M4029 1627v6M4144 1627v6M4258 1627v6M4640 1627v6M4868 1627v6M5173 1627v6M5250 1627v6M5402 1627v6M5593 1627v6M5745 1627v6M5898 1627v6"/>
<path class="dot" stroke="#757f4a" d="M3610 1322v6M3610 1383v6M5211 1444v6M5211 1505v6M3610 1566v6m38.13 -6v6m38.13 -6v6m38.13 -6v6m38.13 -6v6m38.13 -6v6m38.13 -6v6m38.13 -6v6m38.13 -6v6m38.13 -6v6m38.13 -6v6m38.13 -6v6m38.13 -6v6m38.13 -6v6m38.13 -6v6m38.13 -6v6m38.13 -6v6m38.13 -6v6m38.13 -6v6m38.13 -6v6m38.13 -6v6m38.13 -6v6m38.13 -6v6m38.13 -6v6m38.13 -6v6m38.13 -6v6m38.13 -6v6m38.13 -6v6m38.13 -6v6m38.13 -6v6m38.13 -6v6m38.13 -6v6m38.13 -6v6m38.13 -6v6m38.13 -6v6m38.13 -6v6m38.13 -6v6m38.13 -6v6m38.13 -6v6m38.13 -6v6m38.13 -6v6m38.13 -6v6m38.13 -6v6m38.13 -6v6m38.13 -6v6m38.13 -6v6m38.13 -6v6m38.13 -6v6m38.13 -6v6m38.13 -6v6m38.13 -6v6m38.13 -6v6m38.13 -6v6m38.13 -6v6m38.13 -6v6m38.13 -6v6m38.13 -6v6m38.13 -6v6m38.13 -6v6m38.13 -6v6m38.13 -6v6m38.13 -6v6m38.13 -6v6m38.13 -6v6m38.13 -6v6m38.13 -6v6m38.13 -6v6M3610 1627v6M3648 1627v6M3686 1627v6M3724 1627v6M3763 1627v6M3801 1627v6M3839 1627v6M3877 1627v6M3915 1627v6M3953 1627v6M4068 1627v6M4106 1627v6M4182 1627v6M4220 1627v6M4334 1627v6M4373 1627v6M4411 1627v6M4525 1627v6M4563 1627v6M4678 1627v6M4716 1627v6M4754 1627v6M4792 1627v6M5288 1627v6M5707 1627v6M6127 1627v6"/>
<rect x="4762" y="422" width="590" height="123" fill="none" stroke="#857a3e" stroke-width="6" stroke-dasharray="9 9"/>
<rect x="5732" y="355" width="455" height="67" fill="none" stroke="#857a3e" stroke-width="6" stroke-dasharray="9 9"/>
<ellipse cx="5085" cy="620" rx="48" ry="58" class="annC"/><text x="5085" y="640" class="anns">c3</text>
<ellipse cx="5653" cy="388" rx="50" ry="58" class="annC"/><text x="5653" y="408" class="anns">c4</text>
<ellipse cx="6121" cy="1215" rx="52" ry="58" class="annC"/><text x="6121" y="1235" class="anns">c1</text>
<ellipse cx="6122" cy="1357" rx="52" ry="58" class="annC"/><text x="6122" y="1377" class="anns">c2</text>
<text x="3672" y="167" class="idt" fill="#9ccc3c">ID: 286</text>
<text x="3855" y="203" class="idt" fill="#e5743a">ID: 258</text>
<text x="4986" y="183" class="idt" fill="#9a9886">ID: 236</text>
<text x="5214" y="183" class="idt" fill="#9a9886">ID: 138</text>
<text x="5886" y="183" class="idt" fill="#9a9886">ID: 147</text>
</g>

<g id="panelD">
<rect x="33" y="1677" width="6212" height="1624" fill="#fffdb6" stroke="#ffd84d" stroke-width="10"/>
<text x="122" y="1724" font-size="30" fill="#8f8a60">Value Distribution View</text>
<rect x="579" y="1694" width="163" height="45" rx="22" fill="#a89a58"/>
<text x="660" y="1726" font-size="26" fill="#ece4b4" text-anchor="middle">Relative</text>
<text x="2051" y="1740" class="idt" fill="#b5ad8a">ID: 138, 236</text>
<text x="2393" y="1740" class="idt" fill="#e07a40">ID: 258</text>
<text x="5387" y="1740" class="idt" fill="#9bc93f">ID: 286</text>
<path d="M2376 1690V3285M5368 1690V3285" stroke="#8a8468" stroke-width="3" stroke-dasharray="12 10"/>
<ellipse cx="6122" cy="1750" rx="56" ry="57" class="annC"/><text x="6122" y="1782" class="anntC">D</text>
<path class="axl" d="M171 1760V3200M926 1760V3200M1691 1760V3200M2441 1760V3200M3197 1760V3200M3950 1760V3200M4702 1760V3200M5468 1760V3200"/>
<g class="tick">
<text x="163" y="1774">15</text><text x="163" y="1914">14</text><text x="163" y="2057">13</text><text x="163" y="2201">12</text><text x="163" y="2343">11</text><text x="163" y="2487">10</text><text x="163" y="2631">9</text><text x="163" y="2776">8</text><text x="163" y="2917">7</text><text x="163" y="3063">6</text>
<text x="916" y="1804">1.3</text><text x="916" y="1923">1.2</text><text x="916" y="2043">1.1</text><text x="916" y="2161">1.0</text><text x="916" y="2279">0.9</text><text x="916" y="2400">0.8</text><text x="916" y="2518">0.7</text><text x="916" y="2636">0.6</text><text x="916" y="2755">0.5</text><text x="916" y="2875">0.4</text><text x="916" y="2993">0.3</text><text x="916" y="3113">0.2</text>
<text x="1681" y="1768">1.0</text><text x="1681" y="1912">0.9</text><text x="1681" y="2055">0.8</text><text x="1681" y="2197">0.7</text><text x="1681" y="2341">0.6</text><text x="1681" y="2487">0.5</text><text x="1681" y="2631">0.4</text><text x="1681" y="2774">0.3</text><text x="1681" y="2918">0.2</text><text x="1681" y="3061">0.1</text><text x="1681" y="3204">0.0</text>
<text x="2431" y="1864">13</text><text x="2431" y="1974">12</text><text x="2431" y="2085">11</text><text x="2431" y="2195">10</text><text x="2431" y="2308">9</text><text x="2431" y="2418">8</text><text x="2431" y="2530">7</text><text x="2431" y="2640">6</text><text x="2431" y="2752">5</text><text x="2431" y="2865">4</text><text x="2431" y="2974">3</text><text x="2431" y="3086">2</text>
<text x="3187" y="1796">0.60</text><text x="3187" y="1916">0.55</text><text x="3187" y="2038">0.50</text><text x="3187" y="2158">0.45</text><text x="3187" y="2277">0.40</text><text x="3187" y="2397">0.35</text><text x="3187" y="2518">0.30</text><text x="3187" y="2638">0.25</text><text x="3187" y="2757">0.20</text><text x="3187" y="2877">0.15</text><text x="3187" y="2996">0.10</text><text x="3187" y="3117">0.05</text>
<text x="3940" y="1836">65</text><text x="3940" y="1942">60</text><text x="3940" y="2051">55</text><text x="3940" y="2158">50</text><text x="3940" y="2266">45</text><text x="3940" y="2373">40</text><text x="3940" y="2479">35</text><text x="3940" y="2586">30</text><text x="3940" y="2693">25</text><text x="3940" y="2800">20</text><text x="3940" y="2906">15</text><text x="3940" y="3013">10</text><text x="3940" y="3122">5</text>
<text x="4692" y="1897">13.0</text><text x="4692" y="2052">12.5</text><text x="4692" y="2209">12.0</text><text x="4692" y="2364">11.5</text><text x="4692" y="2521">11.0</text><text x="4692" y="2676">10.5</text><text x="4692" y="2833">10.0</text><text x="4692" y="2990">9.5</text><text x="4692" y="3145">9.0</text>
<text x="5458" y="1819">280</text><text x="5458" y="1923">260</text><text x="5458" y="2024">240</text><text x="5458" y="2128">220</text><text x="5458" y="2229">200</text><text x="5458" y="2330">180</text><text x="5458" y="2433">160</text><text x="5458" y="2534">140</text><text x="5458" y="2636">120</text><text x="5458" y="2738">100</text><text x="5458" y="2839">80</text><text x="5458" y="2940">60</text><text x="5458" y="3044">40</text><text x="5458" y="3145">20</text>
</g>
<g fill="url(#rug)">
<rect x="673" y="1767" width="80" height="1430"/><rect x="1423" y="1767" width="90" height="1430"/><rect x="2183" y="1767" width="95" height="1430"/><rect x="2929" y="1767" width="120" height="1430"/><rect x="3679" y="1767" width="190" height="1430"/><rect x="4425" y="1767" width="187" height="1430"/><rect x="5200" y="1767" width="110" height="1430"/><rect x="5937" y="1767" width="112" height="1430"/>
</g>
<path class="vio" d="M403 1767L400 2000L396 2150L390 2199Q375 2290 367 2379Q352 2460 344 2536Q338 2610 329 2671Q300 2700 283 2739Q274 2760 268 2772Q240 2800 222 2840Q270 2860 306 2874Q240 2890 199 2907Q250 2930 291 2952Q318 2980 337 3008Q360 3025 375 3042Q395 3120 401 3199Z" fill="#fdf4bc" stroke="#f1c97e"/>
<path class="vio" d="M1160 1767L1158 2100Q1130 2130 1140 2143Q1120 2165 1145 2190Q1160 2240 1156 2289Q1125 2340 1102 2390Q1070 2420 1056 2447Q1035 2460 1041 2469Q1050 2500 1071 2514Q1120 2520 1117 2531Q1080 2545 1041 2559Q1015 2575 1003 2593Q985 2615 987 2638Q995 2660 1018 2677Q1060 2695 1056 2711Q1040 2735 1018 2756Q1000 2780 995 2806Q975 2840 957 2868Q962 2895 980 2918Q1000 2950 1018 2975Q1045 3005 1071 3031Q1105 3070 1125 3110Q1150 3160 1160 3196Z" fill="#fce6b6" stroke="#f0be7c"/>
<path class="vio" d="M1916 1793L1913 2109Q1912 2160 1910 2211Q1895 2280 1883 2345Q1865 2400 1852 2447Q1832 2480 1829 2514Q1835 2550 1852 2581Q1875 2610 1890 2638Q1870 2665 1860 2694Q1845 2730 1844 2772Q1850 2815 1867 2851Q1840 2880 1829 2907Q1840 2940 1860 2963Q1875 3000 1875 3031Q1845 3060 1837 3093Q1845 3130 1860 3155Q1760 3180 1714 3194L1916 3197Z" fill="#f9d8a2" stroke="#efb06a"/>
<path class="vio" d="M2675 1790L2672 2200L2677 2600L2668 2896Q2662 2950 2648 2986Q2610 3010 2568 3025Q2500 3040 2467 3059Q2490 3090 2528 3110Q2585 3135 2621 3155Q2655 3175 2668 3194L2675 3199Z" fill="#f2ecd0" stroke="#e3d5a8"/>
<path class="vio" d="M3429 1767L3427 2500L3429 2941Q3400 2965 3371 2986Q3330 3012 3291 3031Q3250 3045 3224 3059Q3270 3075 3318 3087Q3370 3100 3398 3121Q3422 3150 3429 3194Z" fill="#fbd97a" stroke="#f0c45e"/>
<path class="vio" d="M4186 1767L4184 2200L4182 2447Q4150 2470 4148 2492Q4165 2515 4162 2536Q4130 2565 4135 2593Q4160 2620 4155 2649Q4125 2675 4121 2705Q4100 2750 4095 2795Q4090 2825 4081 2851Q4055 2880 4054 2907Q4080 2935 4088 2963Q4050 2990 4041 3020Q4060 3050 4068 3076Q3990 3100 3981 3126Q4010 3150 4054 3160Q4140 3180 4182 3197L4186 3199Z" fill="#fde88a" stroke="#f5d46a"/>
<path class="vio" d="M4937 1761L4935 2222Q4910 2240 4900 2267Q4885 2300 4880 2350Q4860 2430 4850 2514Q4868 2540 4870 2560Q4848 2610 4843 2671Q4860 2730 4865 2780Q4855 2830 4850 2874Q4760 2950 4737 2980Q4800 2995 4856 3008Q4875 3060 4887 3110Q4910 3140 4931 3166L4937 3205Z" fill="#fdf08a" stroke="#f6e272" stroke-opacity="0.7"/>
<path class="vio" d="M5699 1817L5697 2600Q5690 2650 5680 2700Q5665 2750 5650 2800Q5635 2850 5620 2900Q5595 2945 5574 2986Q5555 3030 5537 3076Q5515 3100 5499 3121Q5505 3150 5520 3170Q5600 3185 5699 3197Z" fill="#faf3c4" stroke="#efe2a6"/>
<path class="thin" d="M403 1767V2106M1160 1767V2135M2675 1790V2894M3429 1767V2935M4186 1767V2267M5699 1817V2607"/>
<path class="wh" d="M403 2106V3199M391 2106H415M1160 2135V3196M1148 2135H1172M1916 1793V3197M1904 1793H1928M2675 2894V3199M2663 2894H2687M3429 2935V3199M3417 2935H3441M3417 3132H3441M4186 2267V3199M4174 2267H4198M4937 1761V3205M4925 1761H4949M5699 2607V3197M5687 2607H5711M5687 3197H5711"/>
<g class="box">
<rect x="390" y="2579" width="31" height="319"/><rect x="1145" y="2576" width="34" height="292"/><rect x="1901" y="2553" width="31" height="506"/><rect x="2659" y="3008" width="32" height="82"/><rect x="3414" y="3008" width="32" height="51"/><rect x="4170" y="2748" width="32" height="326"/><rect x="4922" y="2480" width="30" height="500"/><rect x="5684" y="2922" width="30" height="210"/>
</g>
<path class="wh" d="M390 2780H421M1145 2722H1179M1901 2781H1932M2659 3053H2691M3414 3033H3446M4170 2924H4202M4922 2728H4952M5684 3044H5714"/>
<path class="hl" d="M673 3171H750M673 3194H750M1423 2314H1508M1423 2542H1508M2181 2851H2273M2181 3104H2273M2956 1767H3050M3693 1812H3867M4437 1784H4587M5225 3199H5350M5949 1769H6000"/>
<ellipse cx="411" cy="3118" rx="48" ry="82" class="kd"/>
<ellipse cx="1913" cy="3096" rx="53" ry="103" class="kd"/>
<circle cx="2675" cy="1772" r="49" class="rd"/>
<circle cx="3429" cy="2737" r="50" class="rd"/>
<circle cx="4186" cy="2197" r="48" class="rd"/>
<circle cx="4937" cy="3166" r="47" class="rd"/>
<circle cx="5696" cy="1767" r="50" class="gd"/>
<ellipse cx="181" cy="3208" rx="52" ry="58" class="annC"/><text x="181" y="3228" class="anns">d1</text>
<ellipse cx="2450" cy="3208" rx="52" ry="58" class="annC"/><text x="2450" y="3228" class="anns">d2</text>
<ellipse cx="5437" cy="3205" rx="52" ry="58" class="annC"/><text x="5437" y="3225" class="anns">d3</text>
<text x="540" y="3258" class="lab">Fixed Acidity</text>
<text x="1278" y="3258" class="lab">Volatile Acidity</text>
<text x="2036" y="3258" class="lab">Critric Acid</text>
<text x="2802" y="3258" class="lab">Residual Sugar</text>
<text x="3548" y="3258" class="lab">Chlorides</text>
<text x="4315" y="3258" class="lab">Free Sulfur Dioxide</text>
<text x="5050" y="3258" class="lab">Alcohol</text>
<text x="5806" y="3258" class="lab">Total Sulfur Dioxide</text>
</g>

<g id="connectors">
<path d="M1799 311V365" stroke="#4d5d5b" stroke-width="5" marker-end="url(#ak)"/>
<path d="M2354 514V560" stroke="#5db04a" stroke-width="5" marker-end="url(#ag)"/>
<path d="M1719 953V1000" stroke="#c9574f" stroke-width="5" marker-end="url(#ar)"/>
<path d="M3042 1372V1325" stroke="#5a8fae" stroke-width="5" marker-end="url(#ab)"/>
<path d="M3648 148L3628 215L3624 275" fill="none" stroke="#8cc23f" stroke-width="4"/>
<path d="M3840 183H3682L3660 214V275" fill="none" stroke="#e5743a" stroke-width="7"/>
<path d="M4976 172L4949 212V275M5203 172L5177 212V275M5880 172L5858 212V275" fill="none" stroke="#8f8c78" stroke-width="4"/>
<path class="con" d="M411 3110C520 3110 560 3171 673 3171M403 3190C500 3190 560 3194 673 3194M1186 2643C1300 2643 1300 2314 1423 2314M1186 2744C1300 2744 1300 2542 1423 2542M1959 3059C2080 3059 2060 2851 2181 2851M1944 3194C2060 3194 2060 3104 2181 3104"/>
<path d="M2724 1767H3050M3449 2737C3560 2600 3560 1812 3680 1812H3867M4220 2182C4300 2100 4310 1784 4430 1784H4587M4975 3199H5350M5746 1769H6066" fill="none" stroke="#e4a46a" stroke-width="3"/>
</g>
</svg>
